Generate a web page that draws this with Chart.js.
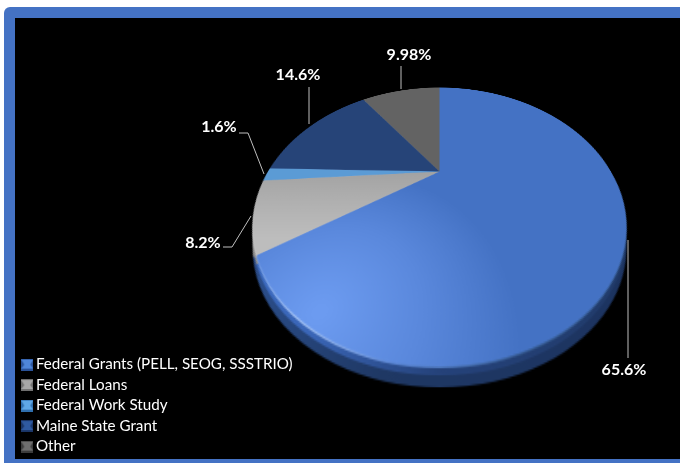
<!DOCTYPE html>
<html>
<head>
<meta charset="utf-8">
<script src="https://cdn.jsdelivr.net/npm/chart.js@4"></script>
<style>
html, body { margin:0; padding:0; background:#fff; overflow:hidden; }
#frame { position:absolute; left:4px; top:7px; width:676px; height:456px; background:#4472c4; border-radius:6px 0 0 0; }
#plot { position:absolute; left:15px; top:18px; width:665px; height:441px; background:#000; }
canvas { position:absolute; }
/* the pie lies tilted back, the apex stays at the middle of the canvas */
.tilt { left:268px; top:-0.5px; transform-origin:50% 50%; transform:perspective(314px) rotateX(46.8deg); }
#rim { margin-top:21px; }
#band { margin-top:9px; }
#shine { margin-top:2px; }
#labels { left:0; top:0; }
</style>
</head>
<body>
<div id="frame"></div>
<div id="plot"></div>
<canvas id="rim" class="tilt" width="343" height="343"></canvas>
<canvas id="band" class="tilt" width="343" height="343"></canvas>
<canvas id="shine" class="tilt" width="343" height="343"></canvas>
<canvas id="top3d" class="tilt" width="343" height="343"></canvas>
<canvas id="labels" width="682" height="463"></canvas>
<script>
// donnees
const categories = ["Federal Grants (PELL, SEOG, SSSTRIO)", "Federal Loans", "Federal Work Study", "Maine State Grant", "Other"];
const values = [65.6, 8.2, 1.6, 14.6, 9.98];
const valueLabels = ["65.6%", "8.2%", "1.6%", "14.6%", "9.98%"];

const faceColors = ["#4472c4", "#a9a9a9", "#5b9bd5", "#264478", "#636363"];
const markerLight = ["#4f86d8", "#a8a8a8", "#5fa8e6", "#2f5aa0", "#6e6e6e"];
const markerDark = ["#2a5298", "#6f6f6f", "#2f6fae", "#1a3566", "#3c3c3c"];

// text position and leader line of each value label
const labelX = [624, 203, 219, 298, 409];
const labelY = [370, 243, 127, 75, 55];
const leaders = [
    [[628, 240], [628, 358]],
    [[251, 216], [232, 247], [223, 247]],
    [[264, 174], [248, 133], [239, 133]],
    [[309, 124], [309, 87]],
    [[401, 89], [401, 66]]
];

Chart.defaults.animation = false;
Chart.defaults.responsive = false;
Chart.defaults.plugins.tooltip.enabled = false;

// degrade du grand secteur, plus clair vers le bas a gauche
function faceFill(context) {
    const i = context.dataIndex;
    const c = context.chart.ctx;
    if (i == 0) {
        const g = c.createRadialGradient(90, 310, 5, 90, 310, 135);
        g.addColorStop(0, "#6c9bf0");
        g.addColorStop(0.5, "#5a88dc");
        g.addColorStop(1, "#4472c4");
        return g;
    }
    if (i == 1) {
        const g = c.createLinearGradient(0, 250, 0, 170);
        g.addColorStop(0, "#bdbdbd");
        g.addColorStop(1, "#a2a2a2");
        return g;
    }
    return faceColors[i];
}

// fine ligne claire sur le bord bas gauche
function shineFill(context) {
    if (context.dataIndex == 1) return "#c8c8c8";
    const g = context.chart.ctx.createLinearGradient(0, 0, 343, 0);
    g.addColorStop(0, "#4f80d4");
    g.addColorStop(0.22, "#b4cef8");
    g.addColorStop(0.42, "#5a86d4");
    g.addColorStop(0.65, "#34598f");
    g.addColorStop(1, "#34598f");
    return g;
}

function bandFill(context) {
    if (context.dataIndex == 1) return "#8f8f8f";
    const g = context.chart.ctx.createLinearGradient(0, 0, 343, 0);
    g.addColorStop(0, "#3c6cc4");
    g.addColorStop(0.25, "#3a66b8");
    g.addColorStop(0.5, "#25427a");
    g.addColorStop(1, "#1f3864");
    return g;
}

// side of the pie: the loans slice only shows above its lower edge
function rimFill(context) {
    const c = context.chart.ctx;
    if (context.dataIndex == 1) {
        const g = c.createLinearGradient(0, 0, 0, 343);
        g.addColorStop(0, "#8a8a8a");
        g.addColorStop(0.72, "#8a8a8a");
        g.addColorStop(0.73, "#2a4a86");
        g.addColorStop(1, "#2a4a86");
        return g;
    }
    const g = c.createLinearGradient(0, 0, 343, 0);
    g.addColorStop(0, "#2f5597");
    g.addColorStop(0.4, "#1f3864");
    g.addColorStop(1, "#1c3360");
    return g;
}

function tiltedPie(id, fill) {
    return new Chart(document.getElementById(id), {
        type: "pie",
        data: { labels: categories, datasets: [{ data: values, backgroundColor: fill, borderWidth: 0 }] },
        options: {
            devicePixelRatio: 2,
            layout: { padding: 0 },
            plugins: { legend: { display: false } }
        }
    });
}

tiltedPie("rim", rimFill);
tiltedPie("band", bandFill);
tiltedPie("shine", shineFill);
tiltedPie("top3d", faceFill);

// petit carre de legende avec biseau
function legendMarker(i) {
    const m = document.createElement("canvas");
    m.width = 12;
    m.height = 12;
    const c = m.getContext("2d");
    c.fillStyle = markerDark[i];
    c.fillRect(0, 0, 12, 12);
    c.fillStyle = markerLight[i];
    c.beginPath();
    c.moveTo(0, 1);
    c.lineTo(12, 1);
    c.lineTo(9, 6);
    c.lineTo(12, 10);
    c.lineTo(0, 10);
    c.lineTo(3, 6);
    c.closePath();
    c.fill();
    return m;
}

// etiquettes et traits de rappel
const valuePlugin = {
    id: "valuePlugin",
    afterDraw(chart) {
        const c = chart.ctx;
        c.save();
        c.strokeStyle = "#bfbfbf";
        c.lineWidth = 1;
        leaders.forEach(function (points) {
            c.beginPath();
            points.forEach(function (p, n) {
                if (n == 0) c.moveTo(p[0], p[1]);
                else c.lineTo(p[0], p[1]);
            });
            c.stroke();
        });
        c.fillStyle = "#ffffff";
        c.font = "bold 16px Lato";
        c.textAlign = "center";
        c.textBaseline = "middle";
        for (let i = 0; i < valueLabels.length; i++) {
            c.fillText(valueLabels[i], labelX[i], labelY[i]);
        }
        c.restore();
    }
};

// same pie, not painted: it only carries the legend and the labels
new Chart(document.getElementById("labels"), {
    type: "pie",
    data: { labels: categories, datasets: [{ data: values, backgroundColor: "rgba(0,0,0,0)", borderWidth: 0 }] },
    options: {
        layout: { padding: { left: 21, bottom: 3.5 } },
        plugins: {
            legend: {
                position: "left",
                align: "end",
                labels: {
                    color: "#ffffff",
                    font: { family: "Lato", size: 15.2 },
                    usePointStyle: true,
                    pointStyleWidth: 2,
                    padding: 5.3,
                    generateLabels: function () {
                        return categories.map(function (name, i) {
                            return { text: name, pointStyle: legendMarker(i), fillStyle: faceColors[i], lineWidth: 0, fontColor: "#ffffff", index: i };
                        });
                    }
                }
            }
        }
    },
    plugins: [valuePlugin]
});
</script>
</body>
</html>
